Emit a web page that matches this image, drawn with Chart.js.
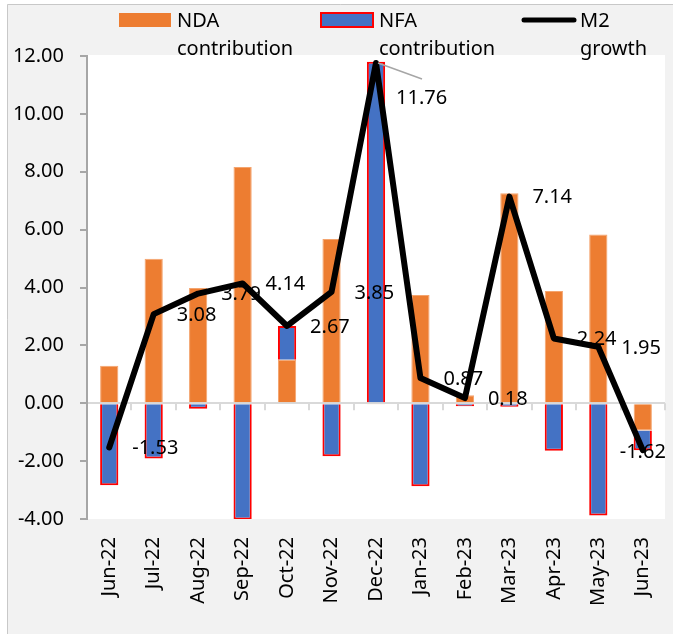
<!DOCTYPE html>
<html>
<head>
<meta charset="utf-8">
<script src="https://cdn.jsdelivr.net/npm/chart.js@4.4.0/dist/chart.umd.min.js"></script>
<style>
  html, body { margin: 0; padding: 0; background: #fff; }
  canvas { display: block; }
</style>
</head>
<body>
<canvas id="myChart" width="673" height="634"></canvas>
<script>
const months = ['Jun-22', 'Jul-22', 'Aug-22', 'Sep-22', 'Oct-22', 'Nov-22', 'Dec-22',
  'Jan-23', 'Feb-23', 'Mar-23', 'Apr-23', 'May-23', 'Jun-23'];
const ndaContribution = [1.30, 4.99, 3.98, 8.16, 1.50, 5.68, -0.04, 3.74, 0.28, 7.26, 3.88, 5.83, -0.94];
const nfaContribution = [-2.83, -1.91, -0.19, -4.02, 1.17, -1.83, 11.80, -2.87, -0.10, -0.12, -1.64, -3.88, -0.68];
const m2Growth = [-1.53, 3.08, 3.79, 4.14, 2.67, 3.85, 11.76, 0.87, 0.18, 7.14, 2.24, 1.95, -1.62];
const legendLabels = [['NDA', 'contribution'], ['NFA', 'contribution'], ['M2', 'growth']];
const yMin = -4;
const yMax = 12;

const FONT = '"Noto Sans", "Open Sans", sans-serif';
const ORANGE = '#ed7d31';
const BLUE = '#4472c4';

const decor = {
  id: 'decor',
  beforeDraw(chart) {
    const { ctx, chartArea: a } = chart;
    ctx.save();
    ctx.fillStyle = '#f2f2f2';
    ctx.fillRect(7, 4, chart.width - 7, chart.height - 4);
    ctx.strokeStyle = '#c8c8c8';
    ctx.lineWidth = 1;
    ctx.beginPath();
    ctx.moveTo(7.5, chart.height);
    ctx.lineTo(7.5, 4.5);
    ctx.lineTo(chart.width, 4.5);
    ctx.stroke();
    ctx.fillStyle = '#fff';
    ctx.fillRect(a.left, a.top - 1, a.right - a.left, a.bottom - a.top + 1);
    ctx.restore();
  },
  beforeDatasetsDraw(chart) {
    // little marks hanging off the zero line between months
    const { ctx, scales: { x, y } } = chart;
    const y0 = y.getPixelForValue(0);
    const step = x.width / months.length;
    ctx.save();
    ctx.strokeStyle = '#d9d9d9';
    ctx.lineWidth = 2;
    ctx.beginPath();
    for (let i = 1; i <= months.length; i++) {
      const px = Math.round(x.left + i * step);
      ctx.moveTo(px, y0);
      ctx.lineTo(px, y0 + 7);
    }
    ctx.stroke();
    ctx.restore();
  },
  afterDatasetsDraw(chart) {
    const { ctx, chartArea: a } = chart;
    const pts = chart.getDatasetMeta(2).data;
    const peak = m2Growth.indexOf(Math.max(...m2Growth));
    ctx.save();
    ctx.font = '20px ' + FONT;
    ctx.fillStyle = '#000';
    ctx.textBaseline = 'middle';
    pts.forEach((p, i) => {
      const txt = m2Growth[i].toFixed(2);
      const w = ctx.measureText(txt).width;
      if (i === peak) {
        ctx.strokeStyle = '#a6a6a6';
        ctx.lineWidth = 1.5;
        ctx.beginPath();
        ctx.moveTo(p.x + 2, p.y);
        ctx.lineTo(p.x + 46, p.y + 16);
        ctx.stroke();
        ctx.textAlign = 'left';
        ctx.fillText(txt, p.x + 20, p.y + 35);
      } else if (p.x + 23 + w > a.right) {
        ctx.textAlign = 'center';
        ctx.fillText(txt, p.x, p.y + 2);
      } else {
        ctx.textAlign = 'left';
        ctx.fillText(txt, p.x + 23, p.y + 1);
      }
    });
    ctx.restore();
  },
  afterDraw(chart) {
    const { ctx } = chart;
    const startX = [119, 321, 522];
    ctx.save();
    ctx.font = '20px ' + FONT;
    ctx.fillStyle = '#000';
    ctx.textAlign = 'left';
    ctx.textBaseline = 'alphabetic';
    legendLabels.forEach((lines, i) => {
      const x0 = startX[i];
      if (i === 0) {
        ctx.fillStyle = ORANGE;
        ctx.fillRect(x0, 13, 52, 14);
      } else if (i === 1) {
        ctx.fillStyle = BLUE;
        ctx.fillRect(x0, 13, 52, 14);
        ctx.strokeStyle = '#ff0000';
        ctx.lineWidth = 2;
        ctx.strokeRect(x0, 13, 52, 14);
      } else {
        ctx.strokeStyle = '#000';
        ctx.lineWidth = 5;
        ctx.lineCap = 'round';
        ctx.beginPath();
        ctx.moveTo(x0 + 2, 20);
        ctx.lineTo(x0 + 52, 20);
        ctx.stroke();
      }
      ctx.fillStyle = '#000';
      ctx.fillText(lines[0], x0 + 58, 27);
      ctx.fillText(lines[1], x0 + 58, 55);
    });
    ctx.restore();
  }
};

const ctx = document.getElementById('myChart');
new Chart(ctx, { // eslint-disable-line
  type: 'bar',
  data: {
    labels: months,
    datasets: [
      {
        label: 'NDA contribution',
        data: ndaContribution,
        backgroundColor: ORANGE,
        borderColor: '#f4a46e',
        borderWidth: 1,
        stack: 'm2',
        order: 1,
        barPercentage: 0.41,
        categoryPercentage: 1,
      },
      {
        label: 'NFA contribution',
        data: nfaContribution,
        backgroundColor: BLUE,
        borderColor: '#ff0000',
        borderWidth: 2,
        stack: 'm2',
        order: 1,
        barPercentage: 0.41,
        categoryPercentage: 1,
      },
      {
        type: 'line',
        label: 'M2 growth',
        data: m2Growth,
        borderColor: '#000',
        borderWidth: 6,
        pointRadius: 0,
        tension: 0,
        borderJoinStyle: 'round',
        borderCapStyle: 'round',
        order: 0,
      },
    ],
  },
  options: {
    responsive: false,
    animation: false,
    layout: { padding: { left: 0, right: 8, top: 56, bottom: 0 } },
    plugins: {
      legend: { display: false },
      tooltip: { enabled: false },
    },
    scales: {
      x: {
        stacked: true,
        grid: { display: false, drawTicks: false },
        border: { display: false },
        ticks: {
          autoSkip: false,
          minRotation: 90,
          maxRotation: 90,
          padding: 18,
          color: '#000',
          font: { family: FONT, size: 20 },
        },
        afterFit(scale) {
          scale.height = 115;
          scale.paddingLeft = 0;
          scale.paddingRight = 0;
        },
      },
      y: {
        stacked: true,
        min: yMin,
        max: yMax,
        grid: {
          color: (c) => (c.tick && c.tick.value === 0 ? '#d9d9d9' : 'rgba(0,0,0,0)'),
          lineWidth: 2,
          tickColor: '#a6a6a6',
          tickLength: 7,
        },
        border: { display: true, color: '#a6a6a6', width: 2 },
        ticks: {
          stepSize: 2,
          padding: 16,
          color: '#000',
          font: { family: FONT, size: 20 },
          callback: (v) => Number(v).toFixed(2),
        },
        afterFit(scale) { scale.width = 87; },
      },
    },
  },
  plugins: [decor],
});
</script>
</body>
</html>
